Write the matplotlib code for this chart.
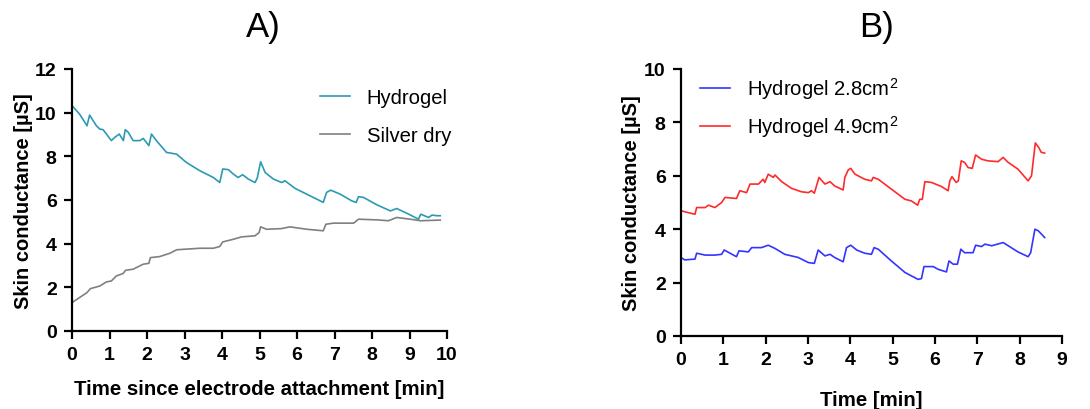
import matplotlib
matplotlib.use("Agg")
import matplotlib.pyplot as plt

plt.rcParams['font.family'] = ['Liberation Sans', 'DejaVu Sans']
plt.rcParams['mathtext.fontset'] = 'custom'
plt.rcParams['mathtext.rm'] = 'Liberation Sans'

# ---------------- Panel A data ----------------
hyd_t = [0, 0.2, 0.4, 0.47, 0.65, 0.74, 0.83, 1.05, 1.14, 1.26, 1.37, 1.42, 1.5, 1.63, 1.81, 1.9,
         2.05, 2.12, 2.25, 2.52, 2.79, 3.05, 3.41, 3.77, 3.94, 4.02, 4.17, 4.3, 4.43, 4.55, 4.7,
         4.88, 4.94, 5.03, 5.15, 5.37, 5.59, 5.68, 5.95, 6.35, 6.7, 6.79, 6.9, 7.15, 7.46, 7.58,
         7.64, 7.77, 8.13, 8.49, 8.66, 8.98, 9.24, 9.3, 9.51, 9.6, 9.73, 9.82]
hyd_v = [10.32, 9.94, 9.40, 9.89, 9.40, 9.25, 9.22, 8.72, 8.87, 9.02, 8.72, 9.22, 9.10, 8.72, 8.72, 8.82,
         8.49, 9.02, 8.72, 8.18, 8.10, 7.72, 7.34, 7.03, 6.80, 7.42, 7.39, 7.19, 7.03, 7.16, 6.96,
         6.80, 7.00, 7.75, 7.26, 6.96, 6.80, 6.88, 6.53, 6.19, 5.89, 6.35, 6.45, 6.27, 5.96, 5.89,
         6.15, 6.12, 5.78, 5.50, 5.61, 5.35, 5.12, 5.35, 5.20, 5.31, 5.28, 5.28]

silver_t = [0, 0.2, 0.4, 0.49, 0.74, 0.92, 1.05, 1.18, 1.36, 1.43, 1.63, 1.9, 2.05, 2.09, 2.34, 2.61,
            2.79, 3.05, 3.41, 3.77, 3.94, 4.02, 4.3, 4.52, 4.88, 4.99, 5.03, 5.19, 5.59, 5.81, 6.26,
            6.7, 6.77, 6.97, 7.51, 7.64, 8.13, 8.44, 8.66, 9.02, 9.29, 9.82]
silver_v = [1.30, 1.53, 1.76, 1.94, 2.06, 2.25, 2.29, 2.52, 2.63, 2.78, 2.83, 3.06, 3.10, 3.36, 3.41, 3.56,
            3.72, 3.75, 3.79, 3.79, 3.87, 4.08, 4.20, 4.31, 4.36, 4.51, 4.77, 4.66, 4.69, 4.77, 4.66,
            4.59, 4.89, 4.94, 4.94, 5.12, 5.09, 5.05, 5.20, 5.12, 5.05, 5.08]

# ---------------- Panel B data ----------------
red_t = [0, 0.17, 0.33, 0.37, 0.57, 0.65, 0.8, 0.96, 1.04, 1.31, 1.39, 1.55, 1.63, 1.83, 1.94, 1.98,
         2.06, 2.18, 2.22, 2.38, 2.61, 2.85, 3.01, 3.08, 3.15, 3.26, 3.4, 3.52, 3.63, 3.83, 3.87,
         3.95, 4.01, 4.11, 4.34, 4.5, 4.54, 4.66, 4.97, 5.29, 5.44, 5.59, 5.64, 5.7, 5.76, 5.92,
         6.15, 6.31, 6.35, 6.4, 6.5, 6.55, 6.62, 6.7, 6.78, 6.88, 6.96, 7.1, 7.25, 7.49, 7.61,
         7.73, 7.96, 8.2, 8.28, 8.37, 8.45, 8.51, 8.59]
red_v = [4.69, 4.62, 4.56, 4.81, 4.81, 4.90, 4.81, 5.00, 5.19, 5.15, 5.44, 5.37, 5.69, 5.69, 5.87, 5.75,
         6.06, 5.94, 6.03, 5.78, 5.53, 5.40, 5.37, 5.44, 5.35, 5.94, 5.69, 5.78, 5.62, 5.47, 5.94,
         6.22, 6.28, 6.06, 5.87, 5.81, 5.94, 5.87, 5.50, 5.12, 5.06, 4.90, 5.12, 5.12, 5.78, 5.75,
         5.60, 5.44, 5.81, 5.97, 5.75, 5.81, 6.56, 6.50, 6.31, 6.28, 6.78, 6.62, 6.56, 6.53, 6.69,
         6.50, 6.25, 5.81, 6.00, 7.23, 7.06, 6.88, 6.85]

blue_t = [0, 0.09, 0.33, 0.37, 0.57, 0.65, 0.8, 0.96, 1.02, 1.31, 1.37, 1.59, 1.67, 1.9, 2.06, 2.22,
          2.45, 2.77, 3.01, 3.15, 3.24, 3.4, 3.52, 3.63, 3.83, 3.91, 4.01, 4.15, 4.34, 4.5, 4.56,
          4.66, 4.97, 5.29, 5.6, 5.68, 5.74, 5.96, 6.07, 6.27, 6.33, 6.43, 6.53, 6.61, 6.7, 6.9,
          6.96, 7.1, 7.18, 7.34, 7.61, 7.73, 7.96, 8.2, 8.26, 8.36, 8.44, 8.59]
blue_v = [2.94, 2.85, 2.88, 3.10, 3.03, 3.03, 3.03, 3.06, 3.22, 2.97, 3.19, 3.15, 3.31, 3.31, 3.40, 3.28,
          3.06, 2.94, 2.75, 2.72, 3.22, 3.00, 3.06, 2.94, 2.78, 3.31, 3.40, 3.22, 3.10, 3.06, 3.31,
          3.25, 2.81, 2.38, 2.12, 2.15, 2.60, 2.60, 2.50, 2.40, 2.81, 2.69, 2.69, 3.25, 3.12, 3.12,
          3.40, 3.35, 3.44, 3.38, 3.50, 3.38, 3.15, 2.97, 3.12, 4.00, 3.94, 3.69]

W, H = 1090, 410
fig = plt.figure(figsize=(W / 100, H / 100), dpi=100)


def px_axes(l, t, r, b):
    return fig.add_axes([l / W, 1 - b / H, (r - l) / W, (b - t) / H])


def style(ax):
    for s in ['top', 'right']:
        ax.spines[s].set_visible(False)
    for s in ['left', 'bottom']:
        ax.spines[s].set_linewidth(1.6)
    ax.tick_params(direction='out', length=6, width=1.6, labelsize=14, pad=5)
    for lab in ax.get_xticklabels() + ax.get_yticklabels():
        lab.set_fontweight('bold')


axA = px_axes(72, 70, 447, 332)
axA.plot(hyd_t, hyd_v, color='#2b9ab2', lw=1.2, label='Hydrogel')
axA.plot(silver_t, silver_v, color='#808080', lw=1.2, label='Silver dry')
axA.set_xlim(0, 10)
axA.set_ylim(0, 12)
axA.set_xticks(range(0, 11))
axA.set_yticks(range(0, 13, 2))
style(axA)
axA.set_xlabel('Time since electrode attachment [min]', fontsize=14.7, fontweight='bold', labelpad=11)
axA.set_ylabel('Skin conductance [µS]', fontsize=14.5, fontweight='bold', labelpad=1.5)
axA.legend(loc='upper left', bbox_to_anchor=(320 / W, 1 - 89 / H), bbox_transform=fig.transFigure,
           frameon=False, fontsize=14.6, handlelength=1.5, handletextpad=0.8, labelspacing=0.95,
           borderpad=0, borderaxespad=0)
fig.text(263 / W, 1 - 27 / H, 'A)', ha='center', va='center', fontsize=25)

axB = px_axes(681, 70, 1062, 337)
axB.plot(blue_t, blue_v, color='#3434ff', lw=1.2, label='Hydrogel 2.8cm$^\\mathregular{2}$')
axB.plot(red_t, red_v, color='#ff2a2a', lw=1.2, label='Hydrogel 4.9cm$^\\mathregular{2}$')
axB.set_xlim(0, 9)
axB.set_ylim(0, 10)
axB.set_xticks(range(0, 10))
axB.set_yticks(range(0, 11, 2))
style(axB)
axB.set_xlabel('Time [min]', fontsize=14.7, fontweight='bold', labelpad=16)
axB.set_ylabel('Skin conductance [µS]', fontsize=14.5, fontweight='bold', labelpad=2.5)
axB.legend(loc='upper left', bbox_to_anchor=(700 / W, 1 - 76 / H), bbox_transform=fig.transFigure,
           frameon=False, fontsize=14.6, handlelength=1.5, handletextpad=0.8, labelspacing=0.6,
           borderpad=0, borderaxespad=0)
fig.text(877 / W, 1 - 27 / H, 'B)', ha='center', va='center', fontsize=25)

fig.savefig('out.png', dpi=100)
